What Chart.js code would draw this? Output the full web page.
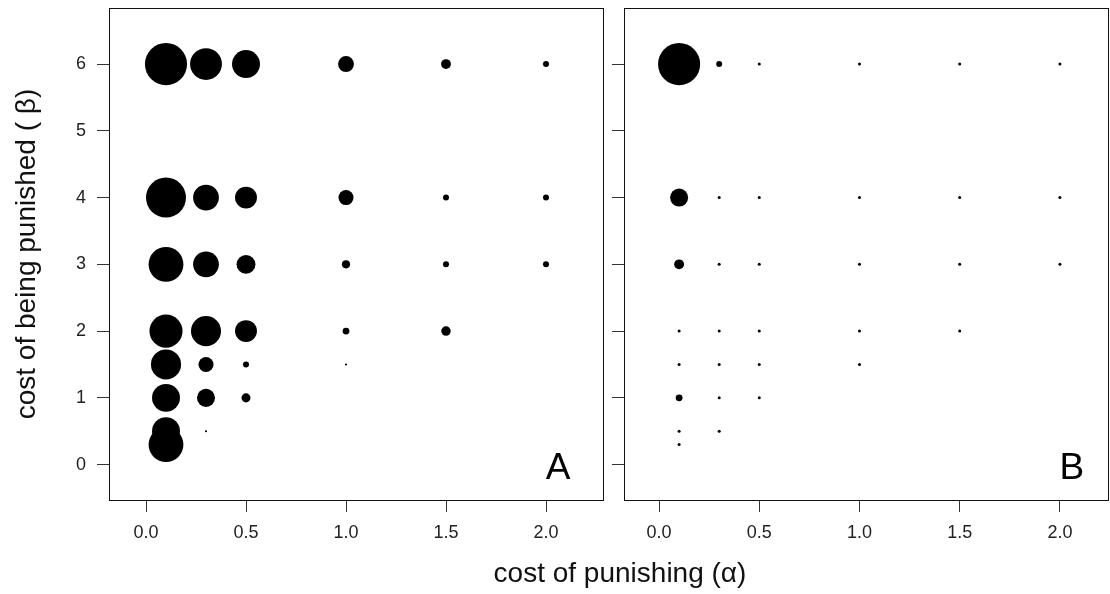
<!DOCTYPE html>
<html>
<head>
<meta charset="utf-8">
<script src="https://cdn.jsdelivr.net/npm/chart.js@4.4.1/dist/chart.umd.min.js"></script>
<style>
body { margin: 0; background: #fff; }
#wrap { position: relative; width: 1110px; height: 594px; overflow: hidden; }
#panelA { position: absolute; left: 0; top: 0; }
#panelB { position: absolute; left: 600px; top: 0; }
#xTitle { position: absolute; left: 420px; width: 400px; top: 558px; text-align: center;
  font: 28px "Liberation Sans", Arial, sans-serif; color: #111; line-height: 30px; }
</style>
</head>
<body>
<div id="wrap">
	<canvas id="panelA" width="620" height="594"></canvas>
	<canvas id="panelB" width="510" height="594"></canvas>
	<div id="xTitle">cost of punishing (α)</div>
</div>
<script>
// grid of parameter values: alpha across, beta down
var alphas = [0.1, 0.3, 0.5, 1.0, 1.5, 2.0];
var betas = [6, 4, 3, 2, 1.5, 1, 0.5, 0.3];

// relative circle size (0-100) for each beta row / alpha column, null = no point
var sizeA = [
	[98, 74, 65, 37, 23, 14],
	[93, 60, 51, 35, 14, 14],
	[81, 60, 44, 19, 14, 14],
	[77, 70, 51, 16, 22, null],
	[70, 35, 14, 5, null, null],
	[65, 42, 21, null, null, null],
	[65, 5, null, null, null, null],
	[81, null, null, null, null, null]
];
var sizeB = [
	[98, 14, 7, 7, 7, 7],
	[42, 7, 7, 7, 7, 7],
	[23, 7, 7, 7, 7, 7],
	[7, 7, 7, 7, 7, null],
	[7, 7, 7, 7, null, null],
	[16, 7, 7, null, null, null],
	[7, 7, null, null, null, null],
	[7, null, null, null, null, null]
];

var xTicks = [0, 0.5, 1.0, 1.5, 2.0];
var yTicks = [0, 1, 2, 3, 4, 5, 6];

var MAX_R = 21.5;
var FONT = '"Liberation Sans", Arial, sans-serif';

Chart.defaults.font.family = FONT;
Chart.defaults.color = '#222';

function toPoints(sizes) {
	var pts = [];
	for (var i = 0; i < betas.length; i++) {
		for (var j = 0; j < alphas.length; j++) {
			var v = sizes[i][j];
			if (v == null) continue;
			pts.push({ x: alphas[j], y: betas[i], r: v / 100 * MAX_R });
		}
	}
	return pts;
}

// no extra room for edge labels, the plot box is placed by hand
function noPadding(s) {
	s.paddingTop = 0;
	s.paddingBottom = 0;
	s.paddingLeft = 0;
	s.paddingRight = 0;
}

// box round the plot area
var frame = {
	id: 'frame',
	afterDraw: function(chart) {
		var a = chart.chartArea, ctx = chart.ctx;
		ctx.save();
		ctx.strokeStyle = '#111';
		ctx.lineWidth = 1;
		ctx.strokeRect(a.left + 0.5, a.top + 0.5, a.right - a.left, a.bottom - a.top);
		ctx.restore();
	}
};

// big panel letter in the lower right corner
var panelLetter = {
	id: 'panelLetter',
	afterDatasetsDraw: function(chart, args, opts) {
		var ctx = chart.ctx;
		ctx.save();
		ctx.font = '37px ' + FONT;
		ctx.fillStyle = '#000';
		ctx.textAlign = 'center';
		ctx.textBaseline = 'alphabetic';
		ctx.fillText(opts.text, chart.scales.x.getPixelForValue(2.06), chart.scales.y.getPixelForValue(-0.22));
		ctx.restore();
	}
};

function makePanel(id, sizes, letter, cfg) {
	return new Chart(document.getElementById(id), {
		type : 'bubble',
		data : {
			datasets : [ {
				data : toPoints(sizes),
				backgroundColor : '#000',
				borderWidth : 0,
				hoverRadius : 0
			} ]
		},
		plugins : [ frame, panelLetter ],
		options : {
			responsive : false,
			animation : false,
			events : [],
			layout : {
				autoPadding : false,
				padding : { top : 8, right : cfg.padRight, left : 0, bottom : 0 }
			},
			plugins : {
				legend : { display : false },
				tooltip : { enabled : false },
				panelLetter : { text : letter }
			},
			scales : {
				x : {
					type : 'linear',
					min : cfg.xMin,
					max : cfg.xMax,
					afterBuildTicks : function(s) { s.ticks = xTicks.map(function(v) { return { value : v }; }); },
					afterFit : function(s) { s.height = 94; noPadding(s); },
					border : { display : false },
					grid : { drawOnChartArea : false, drawTicks : true, tickLength : 12, color : '#333' },
					ticks : {
						font : { size : 18 },
						padding : 10,
						maxRotation : 0,
						callback : function(v) { return Number(v).toFixed(1); }
					}
				},
				y : {
					type : 'linear',
					min : -0.53,
					max : 6.84,
					afterBuildTicks : function(s) { s.ticks = yTicks.map(function(v) { return { value : v }; }); },
					afterFit : function(s) { s.width = cfg.yWidth; noPadding(s); },
					border : { display : false },
					grid : { drawOnChartArea : false, drawTicks : true, tickLength : 12, color : '#333' },
					ticks : {
						font : { size : 18 },
						padding : 11,
						callback : function(v) { return cfg.yLabels ? String(v) : ''; }
					},
					title : {
						display : cfg.yLabels,
						text : 'cost of being punished ( β)',
						font : { size : 28 },
						color : '#111',
						padding : { top : 10, bottom : 0 }
					}
				}
			}
		}
	});
}

makePanel('panelA', sizeA, 'A', { xMin : -0.185, xMax : 2.285, yWidth : 109, padRight : 17, yLabels : true });
makePanel('panelB', sizeB, 'B', { xMin : -0.175, xMax : 2.24, yWidth : 24, padRight : 2, yLabels : false });
</script>
</body>
</html>
